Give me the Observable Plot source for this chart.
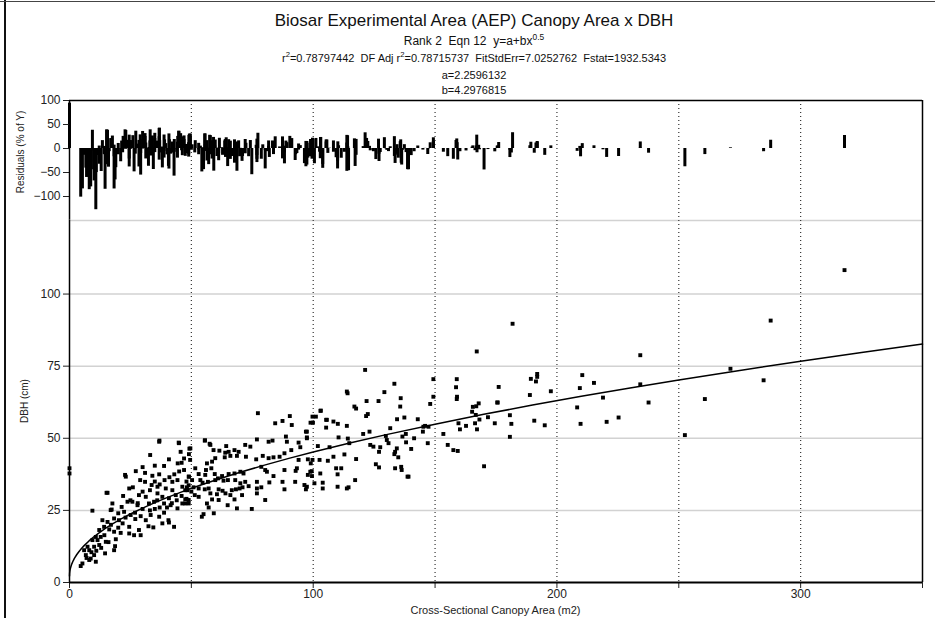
<!DOCTYPE html>
<html><head><meta charset="utf-8">
<script src="https://cdn.jsdelivr.net/npm/d3@7"></script>
<script src="https://cdn.jsdelivr.net/npm/@observablehq/plot@0.6"></script>
<style>
body{margin:0;background:#fff;font-family:"Liberation Sans",Arial,sans-serif;}
#wrap{position:relative;width:935px;height:618px;overflow:hidden;background:#fff;}
.t{position:absolute;left:0;width:948px;text-align:center;color:#111;white-space:nowrap;line-height:1;}
.rot{position:absolute;transform:translate(-50%,-50%) rotate(-90deg);white-space:nowrap;color:#222;font-size:10px;}
#res,#main{position:absolute;left:0;}
#res{top:90px;} #main{top:215px;}
sup{font-size:70%;line-height:0;}
</style></head>
<body><div id="wrap">
<div style="position:absolute;left:4px;top:0;width:2px;height:618px;background:#111"></div>
<div style="position:absolute;left:0;top:1px;width:935px;height:1px;background:#444"></div>
<div class="t" style="top:12px;font-size:17px">Biosar Experimental Area (AEP) Canopy Area x DBH</div>
<div class="t" style="top:35px;font-size:12px">Rank 2&nbsp; Eqn 12&nbsp; y=a+bx<sup>0.5</sup></div>
<div class="t" style="top:53px;font-size:11px">r<sup>2</sup>=0.78797442&nbsp; DF Adj r<sup>2</sup>=0.78715737&nbsp; FitStdErr=7.0252762&nbsp; Fstat=1932.5343</div>
<div class="t" style="top:70px;font-size:11px">a=2.2596132</div>
<div class="t" style="top:85px;font-size:11px">b=4.2976815</div>
<div class="rot" style="left:20px;top:152px">Residuals (% of Y)</div>
<div class="rot" style="left:24px;top:401px">DBH (cm)</div>
<div style="position:absolute;left:0;width:991px;top:605px;text-align:center;font-size:11px;line-height:1;color:#222">Cross-Sectional Canopy Area (m2)</div>
<div id="res"></div><div id="main"></div>
</div>
<script>
// fit parameters shown in the chart header
const fitA = 2.2596132, fitB = 4.2976815;
const xGridValues = [50,100,150,200,250,300];
const xTickLabels = [0,100,200,300];
const xMinorTicks = [50,150,250,350];
const yTickValues = [0,25,50,75,100];
const resTickValues = [-100,-50,0,50,100];

// Cross-sectional canopy area (m2), DBH (cm)
const pointsSmall = [[0,39.6],[0,37.8],[36.8,48.8],[44.9,48.3],[33.1,44.2],[45.6,45.3],[40.8,42.7],[44.4,41.3],[38.8,40.4],[27.2,38.6],[22.8,37.3],[36.8,37.5],[31,34.9],[24.5,32.6],[15.6,31.1],[33.7,33.8],[36.1,33.2],[42.2,34.9],[44.3,35.5],[49,36.7],[39.5,32.6],[42.2,32],[46.3,33.2],[48.4,32],[28.5,30.3],[31.3,29.7],[36.1,30.9],[38.1,29.7],[40.8,29.2],[43.6,30.3],[25.8,28],[23.8,28],[17.6,27.4],[17.3,25.3],[21.4,26.2],[27.9,26.8],[32.6,27.4],[34.7,28],[38.8,27.4],[41.5,26.8],[44.3,25.7],[46.3,27.4],[9.4,24.9],[16.9,25.1],[22.4,24.5],[25.1,23.4],[26.9,24.2],[29.2,23],[31.3,21.6],[33.3,23.4],[36.8,22.8],[38.8,24.2],[40.6,21.6],[42.9,19.3],[38.1,20.5],[40.8,20.8],[34.4,19.1],[32.4,19.5],[28.5,18.2],[24.5,19.3],[21.8,20.5],[20.3,21.6],[18.3,22.2],[15.6,21],[13.5,21.6],[14.2,19.3],[16.3,18.4],[18.3,17.6],[21,17.2],[24.5,17],[26.5,16.4],[29.2,16.4],[12.2,18.2],[10.8,15.8],[12.8,15.8],[14.3,16.4],[9.4,14.7],[11.5,14.7],[14.9,14.1],[18.7,12.6],[18.3,11.2],[14.6,10.1],[7.4,12.4],[8.1,11.2],[6.7,9.5],[10.1,9.5],[8.7,8.3],[10.8,7.2],[8.1,7.8],[5.3,6.6],[4.6,5.7],[12.2,13],[10.1,12.4],[6,11.2],[15.2,31.1],[23.1,36.7],[49.2,46.4],[36.9,49.2],[44.8,48.5],
[30,31.5],[33,32],[35,35],[37,34],[39,35.5],[41,36.5],[43,37.5],[45,38.5],[47,39],[48,35],[46,30],[44,28.5],[42,27.5],[40,26],[37,26],[35,25.5],[33,25],[30,25.5],[28,27.5],[27,22],[23,22.5],[20,19],[19,15],[16,14],[13,12],[11,11],[9,10.5],[7,8.5],[22,30],[26,33],[29,35.5],[31,38],[34,37],[47,43],[49,44.5],[46,41.5],[35,40.5],[30,40],[25,28.5],[20,24],[17,20],[36,28.5],[48,29],[50,31.5]];

const pointsMid = [[77.3,58.7],[84.4,55.2],[87.4,56],[90.4,57.7],[91.2,54.6],[98.9,55.4],[99.7,57.5],[55.5,49.2],[57.8,47.7],[59.1,45.9],[49.6,46.5],[64.3,47.3],[72.1,47.7],[74.2,47.1],[76.9,49.6],[81.7,48.8],[83.3,49.2],[88.8,50.6],[89.2,48.8],[94,48.5],[94.7,46.9],[97.4,50],[97,52.3],[61.5,45.7],[63.9,45],[65.3,45.3],[67.7,45.9],[69.4,45.3],[63.7,43.4],[66,43.9],[68.7,43.9],[72.4,43.6],[49.5,42.5],[56.4,41.3],[58.5,41.9],[59.8,43.1],[56,39],[58.2,39.6],[51.6,39.6],[53,37.6],[55.7,37.3],[59.6,37.6],[62.6,36.9],[65.3,37.6],[67.7,37.8],[70.1,38.4],[71.4,37.8],[76.6,42.7],[79.3,43.9],[81.7,43.1],[83.7,43.4],[86.2,43.6],[88.2,44.8],[91,45.9],[94,42.5],[97.8,42.7],[78.7,40.1],[80.3,39],[81,38.4],[83.7,36.9],[88.2,39],[93.3,39.6],[92.8,38.7],[99,41.3],[99.4,38.6],[48.9,36.7],[50.3,35.5],[53.7,35.5],[54.6,34.6],[56.8,34.9],[59.8,35.5],[60.9,36.1],[63.2,35.3],[65,35.5],[68,35.5],[70.1,34.4],[72.1,34.9],[73.5,33.4],[76.9,34.9],[76.9,32.6],[78.7,33],[82,34.7],[87.4,34.9],[88.2,32.3],[92.6,34.9],[96.4,33.8],[97,32.3],[48.2,33],[48.9,33.7],[50.9,33],[53,32.6],[55.5,32.3],[57.1,32.6],[61.2,32.3],[62.8,31.8],[66.6,32],[68.3,32.3],[69.8,32.6],[71,33],[51.4,30.3],[53,29.7],[57.8,30.9],[60.5,30.6],[64,30.9],[66,30.3],[67.7,28.8],[61.2,28.6],[58.5,28.8],[70.8,30.3],[76.9,30.9],[80.3,28.6],[64.9,26.8],[68.7,25.7],[74.8,25.5],[56.4,27.4],[57.1,26],[59.2,24],[55,23.7],[54.3,22.8],[48.9,28.6],[48.9,27.4],[47.5,27.4],[47.5,28.8],[47.5,32],[55.6,49.3],[57.5,48.1],[103,59.5],[105.6,56.4]];

const pointsLarge = [[121.3,73.7],[133.3,68.9],[113.8,66.2],[114.1,65.6],[129.2,66],[149.3,70.5],[149.3,64.4],[158.9,70.5],[158.6,67.7],[159,64.4],[121.9,62.9],[126.8,62.9],[135.9,63.9],[148,61.9],[135.7,61],[117.6,60.3],[103.1,59.6],[122.4,58.4],[121.7,57.7],[101.1,57.5],[105.3,56.4],[99.9,55.4],[108.3,55.8],[110.1,55],[134.4,56.6],[137.4,57.2],[142.9,56.6],[113.8,54.3],[105.3,53.7],[145.9,54.3],[147.3,54],[131.6,53.5],[123.1,52.3],[120.5,51.5],[138,51.5],[145,52.3],[153.4,51.5],[97.4,52.3],[97.4,50.3],[110.4,50.3],[114.2,49.9],[129.8,50.8],[130.2,49.4],[136.6,50.6],[141.4,50],[147,48.3],[138.1,48.6],[114.8,48.3],[106.7,46.9],[101.9,47.3],[123.4,47.7],[124.7,47.1],[127.5,46.9],[127,45.3],[134.3,46.5],[140.2,46.3],[155.2,47.7],[157.5,45.9],[108.3,43.6],[112.8,44.4],[117.6,42.8],[133.6,45.3],[133.3,44.5],[134.9,43.4],[99.7,42.5],[102.6,42.5],[106,42.2],[111.5,39.6],[109.4,39.6],[125.7,41],[127,39.9],[133.6,39.6],[136.1,40.1],[136.3,39],[102.9,37.8],[110,37.5],[99.5,36.9],[139.1,36.7],[117.2,35.5],[100.5,34.4],[103.9,34.6],[110,33.2],[114.5,33],[103.9,32.6],[97.4,33.2],[97.8,37.3],[98.8,38.4],[116.9,61],[145.2,54],[130.9,48.3],[138.7,36.7],[113.8,32.6]];

const pointsSparse = [[181.8,89.7],[167.1,80.1],[234.2,78.8],[191.9,72.3],[191.9,71.3],[189.3,70.6],[191.4,69.7],[210.4,71.9],[215.2,69.2],[209.4,67.4],[197.5,66.3],[188.9,65],[176.1,67.8],[158.9,63.6],[175.7,62.4],[167.9,62.1],[166.9,61.1],[218.9,64.1],[234.2,68.7],[237.6,62.4],[208.3,60.7],[165.2,59.2],[166.7,58.1],[171.7,57.3],[180.7,58],[168.2,56.5],[159.6,55.2],[162.7,54.3],[166.4,55.2],[167.2,53.1],[160.2,53.1],[174.5,55.2],[181.3,55],[190.7,56.1],[195,54.5],[209.7,55],[220.4,55.7],[225.3,57.2],[180.7,50.5],[159.3,45.6],[170.1,40.3],[165.5,60.9],[175.5,62.4],
[318,108.3],[287.7,90.8],[271.2,74.1],[284.8,70.1],[260.7,63.6],[252.5,51.1]];

// x positions at which the fitted curve y=a+b*x^0.5 is drawn
const curveX = [0,0.05,0.15,0.3,0.5,0.75,1,1.5,2,3,4,5,6,8,10,12,15,18,21,25,30,35,40,45,50,60,70,80,90,100,115,130,150,170,190,210,230,250,275,300,325,350];

const pts = [...pointsSmall, ...pointsMid, ...pointsLarge, ...pointsSparse].map(([x, y]) => {
  const yhat = fitA + fitB * Math.sqrt(x);
  return {x, y, r: (y - yhat) / y * 100};
});
const curve = curveX.map(x => ({x, y: fitA + fitB * Math.sqrt(x)}));

const font = {fontFamily:'"Liberation Sans", Arial, sans-serif', fontSize:"12px", background:"transparent", color:"#222", overflow:"visible"};

const res = Plot.plot({
  width:935, height:130, marginLeft:69, marginRight:13, marginTop:10, marginBottom:0,
  style:font,
  x:{domain:[0,350], axis:null},
  y:{domain:[-150,100]},
  marks:[
    Plot.ruleX(xGridValues, {stroke:"#333", strokeDasharray:"1,3", strokeWidth:1.2}),
    Plot.ruleX(pts, {x:"x", y1:0, y2:"r", stroke:"#000", strokeWidth:3}),
    Plot.axisY({ticks:resTickValues, tickSize:6, tickPadding:3, label:null}),
    Plot.ruleX([0], {stroke:"#000", strokeWidth:1.5}),
    Plot.ruleX([350], {stroke:"#000", strokeWidth:1.5}),
    Plot.ruleY([100], {stroke:"#000", strokeWidth:1.5})
  ]
});
document.getElementById("res").appendChild(res);

const main = Plot.plot({
  width:935, height:403, marginLeft:69, marginRight:13, marginTop:5, marginBottom:36,
  style:font,
  x:{domain:[0,350]},
  y:{domain:[0,125.5]},
  marks:[
    Plot.ruleY([25,50,75,100,125.5], {stroke:"#d2d2d2", strokeWidth:1.5}),
    Plot.ruleX(xGridValues, {stroke:"#333", strokeDasharray:"1,3", strokeWidth:1.2}),
    Plot.line(curve, {x:"x", y:"y", stroke:"#000", strokeWidth:1.5, curve:"linear"}),
    Plot.dot(pts, {x:"x", y:"y", symbol:"square", r:2.2, fill:"#000"}),
    Plot.axisY({ticks:yTickValues, tickSize:6, tickPadding:3, label:null}),
    Plot.axisX({ticks:xTickLabels, tickSize:6, tickPadding:1, label:null}),
    Plot.axisX({ticks:xMinorTicks, tickSize:6, tickFormat:() => "", label:null}),
    Plot.ruleY([0], {stroke:"#000", strokeWidth:2}),
    Plot.ruleX([0], {stroke:"#000", strokeWidth:1.5}),
    Plot.ruleX([350], {stroke:"#000", strokeWidth:1.5})
  ]
});
document.getElementById("main").appendChild(main);
</script>
</body></html>
